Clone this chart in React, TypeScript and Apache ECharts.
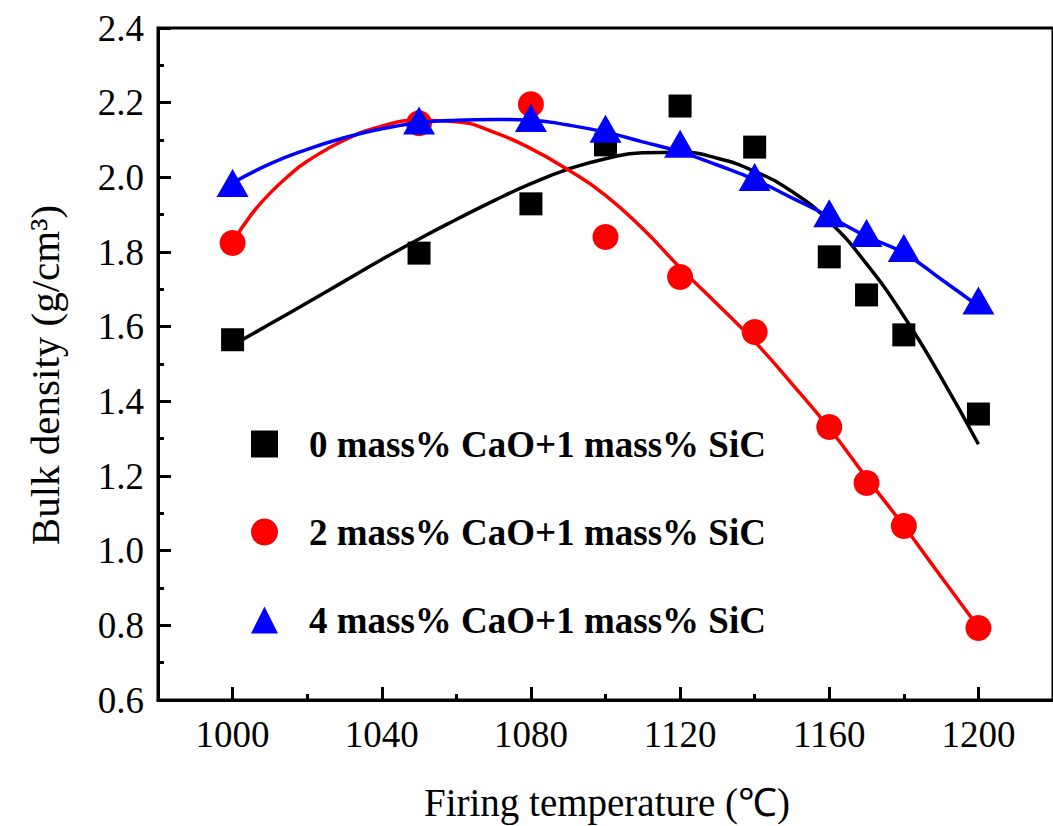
import React, { useEffect, useRef } from "react";
import * as echarts from "echarts";

const FONT = '"Liberation Serif", "Times New Roman", serif';

// measured points
const temps = [1000, 1050, 1080, 1100, 1120, 1140, 1160, 1170, 1180, 1200];
const density0 = [1.565, 1.797, 1.929, 2.087, 2.191, 2.081, 1.787, 1.685, 1.578, 1.366];
const density2 = [1.824, 2.145, 2.196, 1.84, 1.733, 1.586, 1.331, 1.181, 1.066, 0.793];
const density4 = [1.985, 2.152, 2.159, 2.13, 2.09, 2.001, 1.904, 1.851, 1.811, 1.67];

// fitted curves
const fitTemps = [1000, 1010, 1020, 1030, 1040, 1050, 1060, 1070, 1080, 1090, 1100, 1110, 1120, 1130, 1140, 1150, 1160, 1170, 1180, 1190, 1200];
const fit0 = [1.55, 1.607, 1.664, 1.722, 1.78, 1.835, 1.887, 1.937, 1.983, 2.022, 2.05, 2.066, 2.067, 2.051, 2.016, 1.962, 1.882, 1.768, 1.628, 1.464, 1.285];
const fitTemps2 = [1000, 1005, 1010, 1015, 1020, 1030, 1040, 1050, 1060, 1070, 1080, 1090, 1100, 1110, 1120, 1130, 1140, 1150, 1160, 1170, 1180, 1190, 1200];
const fit2 = [1.825, 1.9, 1.957, 2.004, 2.043, 2.1, 2.137, 2.153, 2.149, 2.121, 2.077, 2.02, 1.952, 1.862, 1.758, 1.66, 1.56, 1.447, 1.328, 1.195, 1.066, 0.93, 0.795];
const fit4 = [1.985, 2.036, 2.075, 2.106, 2.13, 2.146, 2.153, 2.155, 2.153, 2.14, 2.121, 2.095, 2.068, 2.033, 1.994, 1.945, 1.895, 1.842, 1.797, 1.727, 1.655];

const seriesNames = [
  "0 mass% CaO+1 mass% SiC",
  "2 mass% CaO+1 mass% SiC",
  "4 mass% CaO+1 mass% SiC",
];

const xMajorTicks = [1000, 1040, 1080, 1120, 1160, 1200];
const xMinorTicks = [1020, 1060, 1100, 1140, 1180];

const pairs = (xs: number[], ys: number[]) => xs.map((x, i) => [x, ys[i]]);

export default function App() {
  const ref = useRef<HTMLDivElement>(null);
  useEffect(() => {
    if (!ref.current) return;
    const chart = echarts.init(ref.current, null, { renderer: "svg" });
    const colors = ["#000000", "#ff0000", "#0000ff"];
    const fitXs = [fitTemps, fitTemps2, fitTemps];
    const fits = [fit0, fit2, fit4];
    const dens = [density0, density2, density4];
    const symbols = ["rect", "circle", "triangle"];
    const sizes: any[] = [23, 26, [32, 28]];
    const series: any[] = [];
    for (let i = 0; i < 3; i++) {
      series.push({
        type: "line",
        name: "fit" + i,
        data: pairs(fitXs[i], fits[i]),
        smooth: true,
        showSymbol: false,
        lineStyle: { color: colors[i], width: 3.5 },
        z: 2 + i * 2,
      });
      series.push({
        type: "scatter",
        name: seriesNames[i],
        data: pairs(temps, dens[i]),
        symbol: symbols[i],
        symbolSize: sizes[i],
        itemStyle: { color: colors[i], opacity: 1 },
        z: 3 + i * 2,
      });
    }
    const option: any = {
      animation: false,
      backgroundColor: "#ffffff",
      grid: {
        left: 158,
        top: 28,
        width: 900,
        height: 672,
        show: true,
        borderColor: "#000",
        borderWidth: 3,
      },
      legend: {
        data: seriesNames,
        orient: "vertical",
        left: 246,
        top: 419,
        itemWidth: 27,
        itemHeight: 27,
        itemGap: 48,
        textStyle: {
          fontFamily: FONT,
          fontSize: 37,
          fontWeight: "bold",
          color: "#000",
          lineHeight: 40,
          padding: [0, 0, 0, 26],
        },
      },
      xAxis: [
        {
          type: "value",
          min: 980,
          max: 1220,
          position: "bottom",
          axisLine: { show: true, lineStyle: { color: "#000", width: 3 } },
          axisTick: {
            show: true,
            inside: true,
            length: 13,
            lineStyle: { color: "#000", width: 3 },
            customValues: xMajorTicks,
          },
          axisLabel: {
            customValues: xMajorTicks,
            fontFamily: FONT,
            fontSize: 37,
            color: "#000",
            margin: 16,
            formatter: (v: number) => String(v),
          },
          splitLine: { show: false },
        },
        {
          type: "value",
          min: 980,
          max: 1220,
          position: "bottom",
          axisLine: { show: false },
          axisTick: {
            show: true,
            inside: true,
            length: 6,
            lineStyle: { color: "#000", width: 3 },
            customValues: xMinorTicks,
          },
          axisLabel: { show: false },
          splitLine: { show: false },
        },
      ],
      yAxis: {
        type: "value",
        min: 0.6,
        max: 2.4,
        interval: 0.2,
        axisLine: { show: true, lineStyle: { color: "#000", width: 3 } },
        axisTick: { show: true, inside: true, length: 13, lineStyle: { color: "#000", width: 3 } },
        minorTick: { show: true, splitNumber: 2, length: 6, lineStyle: { color: "#000", width: 3 } },
        axisLabel: {
          fontFamily: FONT,
          fontSize: 37,
          color: "#000",
          margin: 14,
          formatter: (v: number) => v.toFixed(1),
        },
        splitLine: { show: false },
        minorSplitLine: { show: false },
      },
      graphic: [
        {
          type: "text",
          x: 45,
          y: 375,
          rotation: Math.PI / 2,
          style: {
            text: "Bulk density (g/cm³)",
            fontFamily: FONT,
            fontSize: 41,
            fill: "#000",
            textAlign: "center",
            textVerticalAlign: "middle",
          },
        },
        {
          type: "text",
          x: 607,
          y: 802,
          style: {
            text: "Firing temperature (℃)",
            fontFamily: FONT,
            fontSize: 39,
            fill: "#000",
            textAlign: "center",
            textVerticalAlign: "middle",
          },
        },
      ],
      series,
    };
    chart.setOption(option);
    return () => chart.dispose();
  }, []);
  return (
    <div
      ref={ref}
      style={{ position: "absolute", left: 0, top: 0, width: 1053, height: 826 }}
    />
  );
}
